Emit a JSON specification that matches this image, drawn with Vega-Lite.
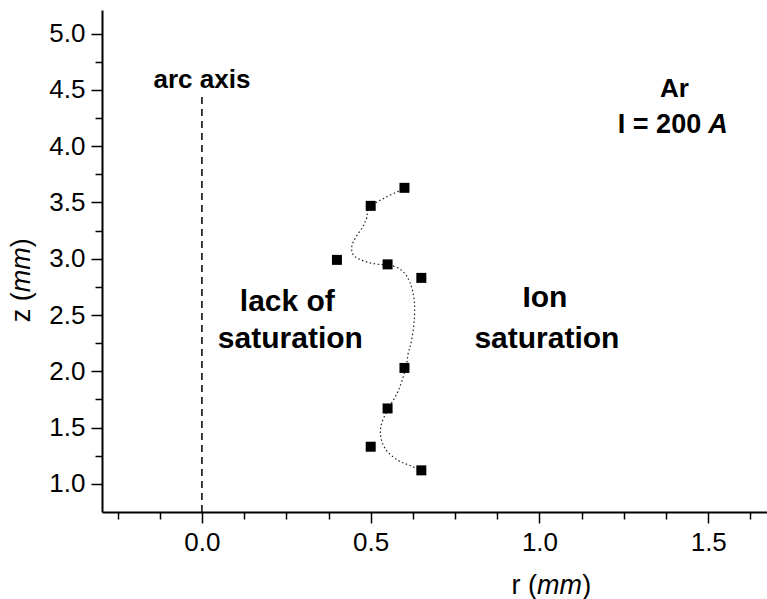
{
  "$schema": "https://vega.github.io/schema/vega-lite/v6.json",
  "width": 665,
  "height": 502,
  "autosize": {"type": "none"},
  "padding": {"left": 102, "top": 10, "right": 0, "bottom": 87},
  "config": {"view": {"stroke": null}, "font": "Liberation Sans"},
  "datasets": {
    "points": [
      {"r": 0.6, "z": 3.63}, {"r": 0.5, "z": 3.47}, {"r": 0.4, "z": 2.99},
      {"r": 0.55, "z": 2.95}, {"r": 0.65, "z": 2.83}, {"r": 0.6, "z": 2.03},
      {"r": 0.55, "z": 1.67}, {"r": 0.5, "z": 1.33}, {"r": 0.65, "z": 1.12}
    ],
    "curve": [
      {"i": 1, "r": 0.604, "z": 3.631}, {"i": 2, "r": 0.503, "z": 3.474},
      {"i": 3, "r": 0.488, "z": 3.361}, {"i": 4, "r": 0.476, "z": 3.281},
      {"i": 5, "r": 0.456, "z": 3.192}, {"i": 6, "r": 0.444, "z": 3.109},
      {"i": 7, "r": 0.448, "z": 3.036}, {"i": 8, "r": 0.468, "z": 2.994},
      {"i": 9, "r": 0.498, "z": 2.964}, {"i": 10, "r": 0.532, "z": 2.947},
      {"i": 11, "r": 0.554, "z": 2.949}, {"i": 12, "r": 0.592, "z": 2.896},
      {"i": 13, "r": 0.616, "z": 2.792}, {"i": 14, "r": 0.629, "z": 2.629},
      {"i": 15, "r": 0.629, "z": 2.452}, {"i": 16, "r": 0.621, "z": 2.274},
      {"i": 17, "r": 0.611, "z": 2.158}, {"i": 18, "r": 0.604, "z": 2.031},
      {"i": 19, "r": 0.582, "z": 1.829}, {"i": 20, "r": 0.552, "z": 1.667},
      {"i": 21, "r": 0.532, "z": 1.533}, {"i": 22, "r": 0.53, "z": 1.414},
      {"i": 23, "r": 0.547, "z": 1.296}, {"i": 24, "r": 0.582, "z": 1.207},
      {"i": 25, "r": 0.616, "z": 1.163}, {"i": 26, "r": 0.651, "z": 1.118}
    ],
    "arcaxis": [{"r": 0, "z": 0.75, "z2": 4.45}],
    "bigtext": [
      {"r": 0.253, "z": 2.54, "t": "lack of"},
      {"r": 0.262, "z": 2.21, "t": "saturation"},
      {"r": 1.016, "z": 2.57, "t": "Ion"},
      {"r": 1.022, "z": 2.21, "t": "saturation"}
    ],
    "midtext": [
      {"r": 0, "z": 4.52, "t": "arc axis"},
      {"r": 1.40, "z": 4.44, "t": "Ar"}
    ],
    "rtext": [{"r": 1.479, "z": 4.12, "t": "I = 200"}],
    "itext": [{"r": 1.50, "z": 4.12, "t": "A"}],
    "xtitle": [
      {"r": 0.917, "z": 0.025, "t": "r ("},
      {"r": 1.127, "z": 0.025, "t": ")"}
    ],
    "xtitlei": [{"r": 0.993, "z": 0.025, "t": "mm"}],
    "ytitle": [
      {"r": -0.533, "z": 2.436, "t": "z ("},
      {"r": -0.533, "z": 3.103, "t": ")"}
    ],
    "ytitlei": [{"r": -0.533, "z": 2.703, "t": "mm"}]
  },
  "encoding": {
    "x": {
      "field": "r", "type": "quantitative",
      "scale": {"domain": [-0.296, 1.674], "nice": false, "zero": false},
      "axis": {
        "title": null, "grid": false,
        "values": [-0.25, -0.125, 0, 0.125, 0.25, 0.375, 0.5, 0.625, 0.75, 0.875, 1, 1.125, 1.25, 1.375, 1.5, 1.625],
        "format": ".1f",
        "labelExpr": "abs(datum.value*2 - round(datum.value*2)) < 0.001 ? datum.label : ''",
        "tickSize": {"condition": {"test": "abs(datum.value*2 - round(datum.value*2)) < 0.001", "value": 11}, "value": 7},
        "tickWidth": 1.5, "tickColor": "black",
        "domainColor": "black", "domainWidth": 2,
        "labelFontSize": 26, "labelColor": "black", "labelFont": "Liberation Sans",
        "labelPadding": 6, "labelOverlap": false, "labelFlush": false
      }
    },
    "y": {
      "field": "z", "type": "quantitative",
      "scale": {"domain": [0.75, 5.21], "nice": false, "zero": false},
      "axis": {
        "title": null, "grid": false,
        "values": [1, 1.25, 1.5, 1.75, 2, 2.25, 2.5, 2.75, 3, 3.25, 3.5, 3.75, 4, 4.25, 4.5, 4.75, 5],
        "format": ".1f",
        "labelExpr": "abs(datum.value*2 - round(datum.value*2)) < 0.001 ? datum.label : ''",
        "tickSize": {"condition": {"test": "abs(datum.value*2 - round(datum.value*2)) < 0.001", "value": 11}, "value": 7},
        "tickWidth": 1.5, "tickColor": "black",
        "domainColor": "black", "domainWidth": 2,
        "labelFontSize": 26, "labelColor": "black", "labelFont": "Liberation Sans",
        "labelPadding": 6, "labelOverlap": false, "labelFlush": false
      }
    }
  },
  "layer": [
    {
      "data": {"name": "arcaxis"},
      "mark": {"type": "rule", "color": "black", "strokeWidth": 1.5, "strokeDash": [7, 5]},
      "encoding": {"y2": {"field": "z2"}}
    },
    {
      "data": {"name": "curve"},
      "mark": {"type": "line", "interpolate": "cardinal", "color": "#222", "strokeWidth": 1.2, "strokeDash": [1.5, 2.5]},
      "encoding": {"order": {"field": "i", "type": "quantitative"}}
    },
    {
      "data": {"name": "points"},
      "mark": {"type": "point", "shape": "square", "filled": true, "color": "black", "size": 100, "opacity": 1}
    },
    {
      "data": {"name": "bigtext"},
      "mark": {"type": "text", "font": "Liberation Sans", "fontWeight": "bold", "fontSize": 30, "align": "center", "baseline": "alphabetic", "color": "black"},
      "encoding": {"text": {"field": "t"}}
    },
    {
      "data": {"name": "midtext"},
      "mark": {"type": "text", "font": "Liberation Sans", "fontWeight": "bold", "fontSize": 26, "align": "center", "baseline": "alphabetic", "color": "black"},
      "encoding": {"text": {"field": "t"}}
    },
    {
      "data": {"name": "rtext"},
      "mark": {"type": "text", "font": "Liberation Sans", "fontWeight": "bold", "fontSize": 27, "align": "right", "baseline": "alphabetic", "color": "black"},
      "encoding": {"text": {"field": "t"}}
    },
    {
      "data": {"name": "itext"},
      "mark": {"type": "text", "font": "Liberation Sans", "fontWeight": "bold", "fontStyle": "italic", "fontSize": 27, "align": "left", "baseline": "alphabetic", "color": "black"},
      "encoding": {"text": {"field": "t"}}
    },
    {
      "data": {"name": "xtitle"},
      "mark": {"type": "text", "font": "Liberation Sans", "fontSize": 27, "align": "left", "baseline": "alphabetic", "color": "black"},
      "encoding": {"text": {"field": "t"}}
    },
    {
      "data": {"name": "xtitlei"},
      "mark": {"type": "text", "font": "Liberation Sans", "fontStyle": "italic", "fontSize": 27, "align": "left", "baseline": "alphabetic", "color": "black"},
      "encoding": {"text": {"field": "t"}}
    },
    {
      "data": {"name": "ytitle"},
      "mark": {"type": "text", "font": "Liberation Sans", "fontSize": 27, "align": "left", "baseline": "middle", "angle": 270, "color": "black"},
      "encoding": {"text": {"field": "t"}}
    },
    {
      "data": {"name": "ytitlei"},
      "mark": {"type": "text", "font": "Liberation Sans", "fontStyle": "italic", "fontSize": 27, "align": "left", "baseline": "middle", "angle": 270, "color": "black"},
      "encoding": {"text": {"field": "t"}}
    }
  ]
}
